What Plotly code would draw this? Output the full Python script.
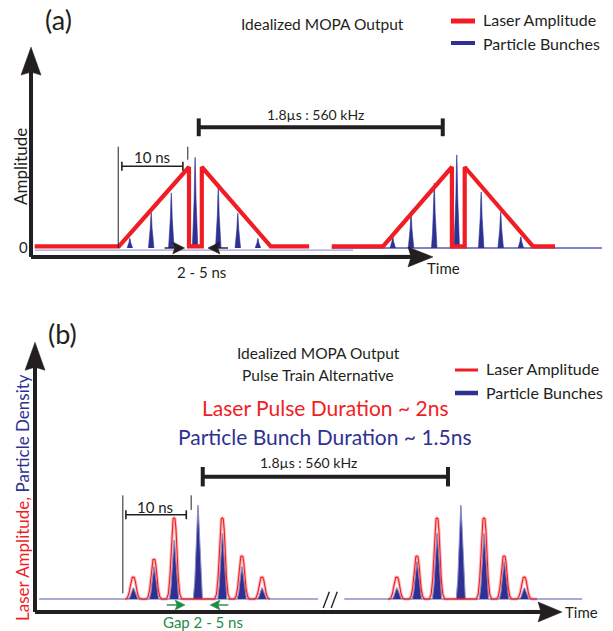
import plotly.graph_objects as go

W, H = 613, 631
KX = 6.1    # screen px per time unit
KY = 81.0   # screen px per amplitude unit

RED = "#F01E24"
BLUE = "#2E3192"
GREEN = "#1E8C45"
INK = "#231F20"
FONT = "Lato"

# ---------------- data : panel (a) ----------------
laser_t_a = [0.6, 14.4, 25.9, 25.9, 28.0, 28.0, 39.3, 45.6, None,
             49.3, 57.7, 69.0, 69.0, 71.1, 71.1, 82.3, 85.9]
laser_amp_a = [0.02, 0.02, 1.0, 0.02, 0.02, 1.0, 0.02, 0.02, None,
               0.02, 0.02, 1.0, 0.02, 0.02, 1.0, 0.02, 0.02]
bunch_t_a = [16.2, 19.7, 23.0, 26.9, 30.7, 33.9, 37.2,
             59.3, 62.3, 66.1, 69.8, 73.8, 77.0, 80.3]
bunch_h_a = [0.12, 0.44, 0.68, 1.12, 0.74, 0.43, 0.12,
             0.14, 0.43, 0.80, 1.15, 0.69, 0.44, 0.14]
baseline_a = [(0.66, 52.8, -0.025), (49.3, 93.6, 0.0)]
ten_ns_a = (14.9, 24.9)
period_a = (27.5, 67.5)
gap_a = (25.2, 29.0)

# ---------------- data : panel (b) ----------------
bunch_t_b = [16.1, 19.5, 22.8, 26.7, 30.7, 33.9, 37.2,
             59.3, 62.6, 65.9, 69.8, 73.6, 76.9, 80.2]
laser_h_b = [0.27, 0.49, 1.0, 0.0, 1.0, 0.53, 0.27,
             0.27, 0.53, 1.0, 0.0, 1.0, 0.53, 0.27]
bunch_h_b = [0.14, 0.40, 0.73, 1.16, 0.81, 0.40, 0.14,
             0.14, 0.46, 0.81, 1.16, 0.81, 0.46, 0.14]
laser_groups_b = [(14.8, 38.5), (57.9, 82.3)]
baseline_b = [(0.66, 46.4), (50.7, 89.7)]
break_t_b = 48.4
ten_ns_b = (14.9, 24.8)
period_b = (27.5, 67.7)
gap_b = (24.6, 28.7)

# ---------------- glyph templates (shape only) ----------------
SPIKE_DX = [-0.45, -0.28, -0.15, -0.06, 0.0, 0.06, 0.15, 0.28, 0.45]
SPIKE_DY = [0.0, 0.22, 0.55, 0.88, 1.0, 0.88, 0.55, 0.22, 0.0]
RPULSE_DX = [-1.25, -0.95, -0.7, -0.5, -0.32, -0.16, 0.0, 0.16, 0.32, 0.5, 0.7, 0.95, 1.25]
RPULSE_DY = [0.0, 0.06, 0.25, 0.55, 0.85, 0.99, 1.0, 0.99, 0.85, 0.55, 0.25, 0.06, 0.0]
BPULSE_DX = [-0.75, -0.5, -0.32, -0.18, -0.07, 0.0, 0.07, 0.18, 0.32, 0.5, 0.75]
BPULSE_DY = [0.0, 0.2, 0.5, 0.8, 0.97, 1.0, 0.97, 0.8, 0.5, 0.2, 0.0]

fig = go.Figure()


def px2paper(x, y):
    return x / W, 1 - y / H


def add_line(xs, ys, panel, color=INK, width=1.0, fill=None, fillcolor=None):
    xa, ya = ("x", "y") if panel == "a" else ("x2", "y2")
    fig.add_trace(go.Scatter(x=xs, y=ys, mode="lines", xaxis=xa, yaxis=ya,
                             line=dict(color=color, width=width),
                             fill=fill, fillcolor=fillcolor,
                             hoverinfo="skip", showlegend=False))


def add_arrow(panel, tail, tip, L, Wd, notch, color=INK, width=4.0):
    tx, ty = tip
    sx, sy = tail
    dxp, dyp = (tx - sx) * KX, (ty - sy) * KY
    n = (dxp ** 2 + dyp ** 2) ** 0.5
    ux, uy = dxp / n, dyp / n
    vx, vy = -uy, ux
    pts = [(0, 0), (-ux * L + vx * Wd, -uy * L + vy * Wd),
           (-ux * (L - notch), -uy * (L - notch)),
           (-ux * L - vx * Wd, -uy * L - vy * Wd), (0, 0)]
    bx = tx - ux * (L - notch - 1) / KX
    by = ty - uy * (L - notch - 1) / KY
    add_line([sx, bx], [sy, by], panel, color=color, width=width)
    add_line([tx + a / KX for a, b in pts], [ty + b / KY for a, b in pts], panel,
             color=color, width=0.5, fill="toself", fillcolor=color)


def dim_bar(panel, t0, t1, y, cap, width):
    add_line([t0, t1], [y, y], panel, width=width)
    for t in (t0, t1):
        add_line([t, t], [y - cap, y + cap], panel, width=width)


def glyph_polys(ts, hs, dx, dy):
    xs, ys = [], []
    for t, h in zip(ts, hs):
        if h <= 0:
            continue
        xs += [t + d for d in dx] + [None]
        ys += [h * e for e in dy] + [None]
    return xs, ys


# ================= panel (a) =================
for t0, t1, lvl in baseline_a:
    add_line([t0, t1], [lvl, lvl], "a", color="#5558B0" if lvl == 0 else "#9A9CD6", width=1.3)

sx, sy = glyph_polys(bunch_t_a, bunch_h_a, SPIKE_DX, SPIKE_DY)
add_line(sx, sy, "a", color=BLUE, width=0.6, fill="toself", fillcolor=BLUE)

add_line(laser_t_a, laser_amp_a, "a", color=RED, width=4.2)

# axes
add_line([0, 0], [-0.11, 2.20], "a", width=4)
add_arrow("a", (0, 2.0), (0, 2.48), 28, 10, 3, width=4)
add_line([0, 62.0], [-0.11, -0.11], "a", width=4)
add_arrow("a", (58.0, -0.11), (65.9, -0.11), 25, 10, 3, width=4)

# 10 ns marker
add_line([14.3, 14.3], [0.0, 1.25], "a", width=1.0)
add_line([25.7, 25.7], [1.09, 1.25], "a", width=1.0)
dim_bar("a", ten_ns_a[0], ten_ns_a[1], 1.01, 0.055, 1.6)
# period marker
dim_bar("a", period_a[0], period_a[1], 1.49, 0.11, 4.0)
# gap arrows
add_arrow("a", (gap_a[0] - 3.3, 0.0), (gap_a[0], 0.0), 12, 6, 2, width=1.4)
add_arrow("a", (gap_a[1] + 3.3, 0.0), (gap_a[1], 0.0), 12, 6, 2, width=1.4)

# ================= panel (b) =================
for t0, t1 in baseline_b:
    add_line([t0, t1], [0.0, 0.0], "b", color="#5558B0", width=1.2)

rx, ry = [], []
for g0, g1 in laser_groups_b:
    rx.append(g0)
    ry.append(0.0)
    for t, h in zip(bunch_t_b, laser_h_b):
        if g0 < t < g1 and h > 0:
            rx += [t + d for d in RPULSE_DX]
            ry += [h * e for e in RPULSE_DY]
    rx += [g1, None]
    ry += [0.0, None]

bx, by = glyph_polys(bunch_t_b, bunch_h_b, BPULSE_DX, BPULSE_DY)
add_line(bx, by, "b", color="#8C8EC8", width=1.0, fill="toself", fillcolor=BLUE)
add_line(rx, ry, "b", color="rgba(240,30,36,0.30)", width=3.2)
add_line(rx, ry, "b", color=RED, width=1.1)

# axis break
for off in (-0.65, 0.65):
    add_line([break_t_b + off - 0.5, break_t_b + off + 0.5], [-0.11, 0.09], "b", width=1.4)

# axes
add_line([0, 0], [-0.16, 2.90], "b", width=4)
add_arrow("b", (0, 2.6), (0, 3.17), 28, 10, 3, width=4)
add_line([0, 83.0], [-0.16, -0.16], "b", width=4)
add_arrow("b", (80.0, -0.16), (86.4, -0.16), 24, 10, 3, width=4)

# 10 ns marker
add_line([14.4, 14.4], [0.07, 1.28], "b", width=1.0)
add_line([25.6, 25.6], [1.10, 1.28], "b", width=1.0)
dim_bar("b", ten_ns_b[0], ten_ns_b[1], 1.04, 0.055, 1.6)
dim_bar("b", period_b[0], period_b[1], 1.51, 0.12, 4.0)
add_arrow("b", (gap_b[0] - 3.0, -0.074), (gap_b[0], -0.074), 10, 5, 2, color=GREEN, width=1.4)
add_arrow("b", (gap_b[1] + 3.0, -0.074), (gap_b[1], -0.074), 10, 5, 2, color=GREEN, width=1.4)

# ---------------- text ----------------
ann = []


def txt(text, x, y, size=15, color=INK, ref="paper", xanchor="center", angle=0):
    if ref == "paper":
        x, y = px2paper(x, y)
        xr, yr = "paper", "paper"
    elif ref == "a":
        xr, yr = "x", "y"
    else:
        xr, yr = "x2", "y2"
    ann.append(dict(text=text, x=x, y=y, xref=xr, yref=yr, showarrow=False,
                    xanchor=xanchor, yanchor="middle", textangle=angle,
                    font=dict(family=FONT, size=size, color=color)))


# panel (a)
txt("(a)", 58, 19, size=27)
txt("Idealized MOPA Output", 322, 24, size=15.5)
txt("Laser Amplitude", 481, 20, size=16, xanchor="left")
txt("Particle Bunches", 481, 43, size=16, xanchor="left")
txt("Amplitude", 20, 167, size=17, angle=-90)
txt("0", 23, 247, size=15)
txt("10 ns", 19.8, 1.12, size=15, ref="a")
txt("1.8µs : 560 kHz", 46.7, 1.65, size=14, ref="a")
txt("2 - 5 ns", 27.9, -0.30, size=15, ref="a")
txt("Time", 64.6, -0.25, size=15, ref="a", xanchor="left")

# panel (b)
txt("(b)", 62, 333, size=27)
txt("Idealized MOPA Output", 318, 353, size=15.5)
txt("Pulse Train Alternative", 318, 375, size=15.5)
txt("Laser Pulse Duration ~ 2ns", 325, 407, size=21, color=RED)
txt("Particle Bunch Duration ~ 1.5ns", 325, 436, size=21, color=BLUE)
txt("Laser Amplitude", 484, 368, size=16, xanchor="left")
txt("Particle Bunches", 484, 392, size=16, xanchor="left")
txt('<span style="color:%s">Laser Amplitude,</span> <span style="color:%s">Particle Density</span>' % (RED, BLUE),
    22, 498, size=17, angle=-90)
txt("10 ns", 19.7, 1.14, size=15, ref="b")
txt("1.8µs : 560 kHz", 44.8, 1.69, size=14, ref="b")
txt("Gap 2 - 5 ns", 27.5, -0.285, size=15, color=GREEN, ref="b")
txt("Time", 86.6, -0.16, size=15, ref="b", xanchor="left")

# legend swatches
shapes = []


def swatch(x0, x1, y, color, width):
    a0, b0 = px2paper(x0, y)
    a1, _ = px2paper(x1, y)
    shapes.append(dict(type="line", xref="paper", yref="paper", x0=a0, x1=a1, y0=b0, y1=b0,
                       line=dict(color=color, width=width)))


swatch(451, 475, 21, RED, 5)
swatch(451, 475, 43, BLUE, 4)
swatch(455, 478, 370, RED, 3)
swatch(455, 478, 393, BLUE, 4.5)

split = 1 - 290 / H
fig.update_layout(
    width=W, height=H, margin=dict(l=0, r=0, t=0, b=0),
    paper_bgcolor="white", plot_bgcolor="white",
    xaxis=dict(domain=[0, 1], range=[-31 / KX, (W - 31) / KX], visible=False, fixedrange=True),
    yaxis=dict(domain=[split, 1], range=[(248 - 290) / KY, 248 / KY], visible=False, fixedrange=True),
    xaxis2=dict(domain=[0, 1], range=[-35 / KX, (W - 35) / KX], visible=False, fixedrange=True,
                anchor="y2"),
    yaxis2=dict(domain=[0, split], range=[(599 - 631) / KY, (599 - 290) / KY], visible=False,
                fixedrange=True, anchor="x2"),
    annotations=ann, shapes=shapes, showlegend=False,
)

fig.write_html("out.html", config={"displayModeBar": False},
               post_script="document.body.style.margin='0px';document.body.style.overflow='hidden';")
